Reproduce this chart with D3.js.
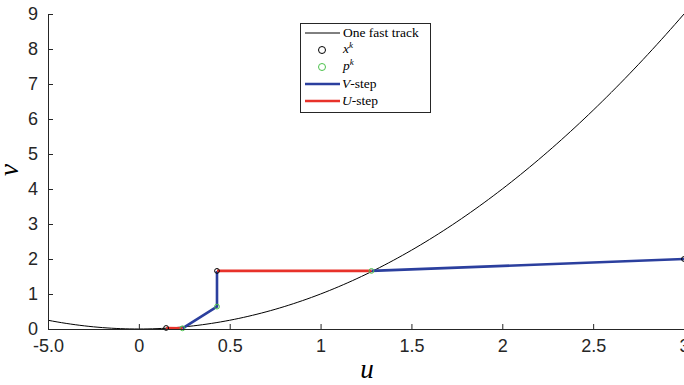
<!DOCTYPE html>
<html><head><meta charset="utf-8">
<script src="https://cdn.jsdelivr.net/npm/d3@7"></script>
<style>body{margin:0;background:#fff}svg{display:block}</style>
</head><body><svg id="c" width="684" height="385"></svg>
<script>
const xTicks = [-0.5, 0, 0.5, 1, 1.5, 2, 2.5, 3];
const xTickLabels = ["-5.0", "0", "0.5", "1", "1.5", "2", "2.5", "3"];
const yTicks = [0,1,2,3,4,5,6,7,8,9];
const curveU = d3.range(-0.5, 3.0001, 0.025);
const trackV = curveU.map(u => u*u);
const xkU = [3, 0.43, 0.15];
const xkV = [2, 1.66, 0.03];
const pkU = [1.28, 0.43, 0.24];
const pkV = [1.66, 0.64, 0.02];
const vSteps = [[[3,2],[1.28,1.66]], [[0.43,1.66],[0.43,0.64],[0.24,0.02]]];
const uSteps = [[[1.28,1.66],[0.43,1.66]], [[0.24,0.02],[0.15,0.03]]];

const SERIF = '"Liberation Serif", "Times New Roman", serif';
const SANS = '"Liberation Sans", Arial, sans-serif';
const svg = d3.select("#c");
const L=48, R=684, T=14, B=329;
const x = d3.scaleLinear().domain([-0.5,3]).range([L,R]);
const y = d3.scaleLinear().domain([0,9]).range([B,T]);
const blue="#2b3f9e", red="#e8322a", green="#4cc24c";

const line = d3.line().x(d=>x(d[0])).y(d=>y(d[1]));
svg.append("path").datum(curveU.map((u,i)=>[u,trackV[i]]))
  .attr("d",line).attr("fill","none").attr("stroke","#000").attr("stroke-width",1);

vSteps.forEach(s=>svg.append("path").datum(s).attr("d",line).attr("fill","none")
  .attr("stroke",blue).attr("stroke-width",2.6).attr("stroke-linejoin","round"));
uSteps.forEach(s=>svg.append("path").datum(s).attr("d",line).attr("fill","none")
  .attr("stroke",red).attr("stroke-width",2.6));

svg.selectAll(".pk").data(pkU).enter().append("circle")
  .attr("cx",(d)=>x(d)).attr("cy",(d,i)=>y(pkV[i])).attr("r",2.4)
  .attr("fill","none").attr("stroke",green).attr("stroke-width",1);
svg.selectAll(".xk").data(xkU).enter().append("circle")
  .attr("cx",(d)=>x(d)).attr("cy",(d,i)=>y(xkV[i])).attr("r",2.4)
  .attr("fill","none").attr("stroke","#000").attr("stroke-width",1);

// axes
const xa = svg.append("g").attr("transform",`translate(0,${B})`)
  .call(d3.axisBottom(x).tickValues(xTicks).tickFormat((d,i)=>xTickLabels[i]).tickSizeInner(-5).tickSizeOuter(0).tickPadding(10));
const ya = svg.append("g").attr("transform",`translate(${L},0)`)
  .call(d3.axisLeft(y).tickValues(yTicks).tickFormat(d3.format("d")).tickSizeInner(-5).tickSizeOuter(0).tickPadding(10));
[xa,ya].forEach(g=>{
  g.select(".domain").attr("stroke","#262626").attr("stroke-width",1);
  g.selectAll(".tick line").attr("stroke","#262626");
  g.selectAll("text").style("font-family",SANS).style("font-size","18px").attr("fill","#262626");
});

svg.append("text").attr("x",367).attr("y",378).attr("text-anchor","middle")
  .style("font-family",SERIF).style("font-style","italic").style("font-size","27px").text("u");
svg.append("text").attr("transform","translate(18,170) rotate(-90)").attr("text-anchor","middle")
  .style("font-family",SERIF).style("font-style","italic").style("font-size","27px").text("v");

// legend
const lg = svg.append("g").style("font-family",SERIF).style("font-size","13.5px");
lg.append("rect").attr("x",300.5).attr("y",23.5).attr("width",130).attr("height",89)
  .attr("fill","#fff").attr("stroke","#262626").attr("stroke-width",1);
const rows=[33,50,67,84,101];
lg.append("line").attr("x1",305).attr("x2",340).attr("y1",rows[0]).attr("y2",rows[0]).attr("stroke","#000").attr("stroke-width",1);
lg.append("text").attr("x",343).attr("y",rows[0]+4).text("One fast track");
lg.append("circle").attr("cx",322).attr("cy",rows[1]).attr("r",3.5).attr("fill","none").attr("stroke","#000");
const t1=lg.append("text").attr("x",343).attr("y",rows[1]+3).style("font-style","italic");
t1.append("tspan").text("x");t1.append("tspan").attr("dy",-5).style("font-size","9px").text("k");
lg.append("circle").attr("cx",322).attr("cy",rows[2]).attr("r",3.5).attr("fill","none").attr("stroke",green);
const t2=lg.append("text").attr("x",343).attr("y",rows[2]+3).style("font-style","italic");
t2.append("tspan").text("p");t2.append("tspan").attr("dy",-5).style("font-size","9px").text("k");
lg.append("line").attr("x1",305).attr("x2",340).attr("y1",rows[3]).attr("y2",rows[3]).attr("stroke",blue).attr("stroke-width",2.6);
const t3=lg.append("text").attr("x",342).attr("y",rows[3]+4);
t3.append("tspan").style("font-style","italic").text("V");t3.append("tspan").text("-step");
lg.append("line").attr("x1",305).attr("x2",340).attr("y1",rows[4]).attr("y2",rows[4]).attr("stroke",red).attr("stroke-width",2.6);
const t4=lg.append("text").attr("x",342).attr("y",rows[4]+4);
t4.append("tspan").style("font-style","italic").text("U");t4.append("tspan").text("-step");
</script></body></html>
